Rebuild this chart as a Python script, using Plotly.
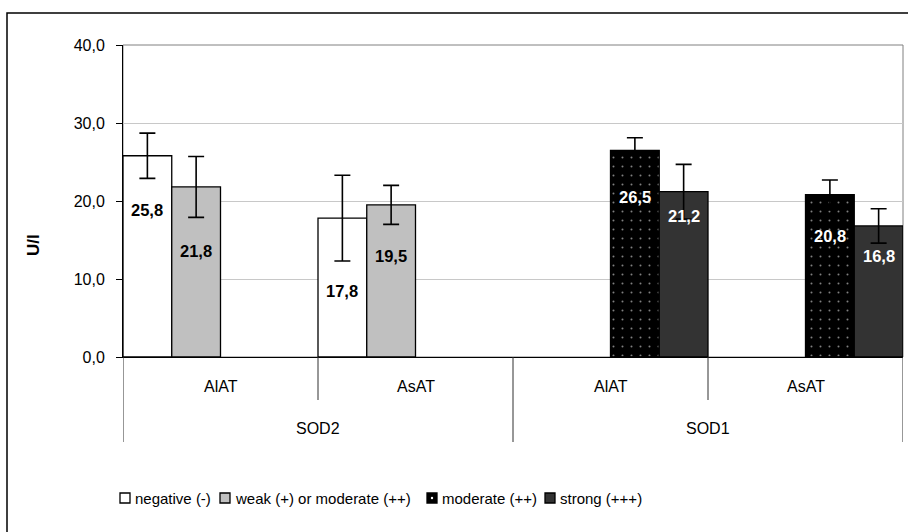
import plotly.graph_objects as go

# ---------------- data ----------------
groups = ["SOD2", "SOD2", "SOD1", "SOD1"]
enzymes = ["AlAT", "AsAT", "AlAT", "AsAT"]
series_names = ["negative (-)", "weak (+) or moderate (++)", "moderate (++)", "strong (+++)"]

negative = [25.8, 17.8, None, None]
weak_or_moderate = [21.8, 19.5, None, None]
moderate = [None, None, 26.5, 20.8]
strong = [None, None, 21.2, 16.8]

err_negative = [2.9, 5.5, None, None]
err_weak_or_moderate = [3.9, 2.5, None, None]
err_moderate = [None, None, 1.6, 1.9]
err_strong = [None, None, 3.5, 2.2]

y_ticks = [0, 10, 20, 30, 40]

# ---------------- style ----------------
FONT = "Liberation Sans, Arial, sans-serif"
W, H = 908, 532
ML, MR, MT, MB = 123, 5, 45, 175
PW, PH = W - ML - MR, H - MT - MB


def px_to_paper_x(px):
    return (px - ML) / PW


def px_to_paper_y(py):
    return (H - MB - py) / PH


values = [negative, weak_or_moderate, moderate, strong]
errors = [err_negative, err_weak_or_moderate, err_moderate, err_strong]
fills = ["white", "#c0c0c0", "black", "#333333"]
label_colors = ["black", "black", "white", "white"]
# label centre distance below the bar top (y units), per series, per category
label_drop = [[7.0, 9.3, None, None],
              [8.2, 6.5, None, None],
              [None, None, 6.0, 5.3],
              [None, None, 3.1, 3.9]]

x_pos = list(range(len(enzymes)))

fig = go.Figure()
for k, (name, vals, errs) in enumerate(zip(series_names, values, errors)):
    mk = dict(color=fills[k], line=dict(color="black", width=1.3))
    if k == 2:
        mk["pattern"] = dict(shape=".", fgcolor="white", bgcolor="black", size=9, solidity=0.04)
    fig.add_trace(go.Bar(
        x=x_pos, y=vals, name=name, marker=mk, showlegend=False, hoverinfo="skip",
        error_y=dict(type="data", array=errs, symmetric=True,
                     color="black", thickness=1.6, width=8),
    ))

n_series = len(series_names)
slot_w = 1.0 / n_series
annotations = []
for k, (vals, drops, col) in enumerate(zip(values, label_drop, label_colors)):
    for i, v in enumerate(vals):
        if v is None:
            continue
        annotations.append(dict(
            x=x_pos[i] + (k - (n_series - 1) / 2) * slot_w,
            y=v - drops[i],
            xref="x", yref="y", showarrow=False,
            text=f"{v:.1f}".replace(".", ","),
            font=dict(family=FONT, size=16.5, color=col, weight="bold"),
        ))

# inner (enzyme) labels
for i, e in enumerate(enzymes):
    annotations.append(dict(x=x_pos[i], y=px_to_paper_y(386), xref="x", yref="paper",
                            text=e, showarrow=False, yanchor="middle",
                            font=dict(family=FONT, size=16, color="black")))
# outer (group) labels
seen = []
for g in groups:
    if g not in seen:
        seen.append(g)
for g in seen:
    idx = [i for i, gg in enumerate(groups) if gg == g]
    annotations.append(dict(x=(x_pos[idx[0]] + x_pos[idx[-1]]) / 2, y=px_to_paper_y(428),
                            xref="x", yref="paper", text=g, showarrow=False, yanchor="middle",
                            font=dict(family=FONT, size=16, color="black")))

# y axis title
annotations.append(dict(x=px_to_paper_x(34), y=px_to_paper_y(245), xref="paper", yref="paper",
                        xanchor="center", yanchor="middle",
                        text="<b>U/l</b>", textangle=-90, showarrow=False,
                        font=dict(family=FONT, size=17, color="black")))

shapes = []
# chart frame
shapes.append(dict(type="rect", xref="paper", yref="paper",
                   x0=px_to_paper_x(7), x1=px_to_paper_x(930),
                   y0=px_to_paper_y(560), y1=px_to_paper_y(13),
                   line=dict(color="black", width=1.5), layer="below"))
# plot area border
shapes.append(dict(type="rect", xref="paper", yref="paper", x0=0, x1=1, y0=0, y1=1,
                   line=dict(color="#808080", width=1), layer="below"))
# category dividers
bounds = [x_pos[0] - 0.5] + [x + 0.5 for x in x_pos]
for j, b in enumerate(bounds):
    long = (j == 0 or j == len(bounds) - 1 or groups[j - 1] != groups[j])
    shapes.append(dict(type="line", xref="x", yref="paper", x0=b, x1=b,
                       y0=0, y1=px_to_paper_y(442 if long else 400),
                       line=dict(color="#303030", width=1)))

# legend (Excel style: small square key followed closely by text)
legend_key_x = [120, 220, 427, 545]
LEG_Y, KEY = 498, 10
for k, name in enumerate(series_names):
    x0 = legend_key_x[k]
    shapes.append(dict(type="rect", xref="paper", yref="paper",
                       x0=px_to_paper_x(x0), x1=px_to_paper_x(x0 + KEY),
                       y0=px_to_paper_y(LEG_Y + KEY / 2), y1=px_to_paper_y(LEG_Y - KEY / 2),
                       fillcolor=fills[k], line=dict(color="black", width=1.3)))
    if k == 2:
        shapes.append(dict(type="circle", xref="paper", yref="paper",
                           x0=px_to_paper_x(x0 + KEY / 2 - 1.2), x1=px_to_paper_x(x0 + KEY / 2 + 1.2),
                           y0=px_to_paper_y(LEG_Y + 1.2), y1=px_to_paper_y(LEG_Y - 1.2),
                           fillcolor="white", line=dict(width=0)))
    annotations.append(dict(x=px_to_paper_x(x0 + KEY + 3), y=px_to_paper_y(LEG_Y),
                            xref="paper", yref="paper", xanchor="left", yanchor="middle",
                            text=name, showarrow=False,
                            font=dict(family=FONT, size=15, color="black")))

fig.update_layout(
    width=W, height=H,
    margin=dict(l=ML, r=MR, t=MT, b=MB, pad=0),
    paper_bgcolor="white", plot_bgcolor="white",
    barmode="group", bargap=0, bargroupgap=0,
    separators=",.",
    font=dict(family=FONT, size=15, color="black"),
    showlegend=False, hovermode=False,
    xaxis=dict(range=[-0.5, len(x_pos) - 0.5], showticklabels=False, ticks="",
               showgrid=False, zeroline=False, showline=True, linecolor="black",
               linewidth=1, fixedrange=True),
    yaxis=dict(range=[0, 40], tickvals=y_ticks,
               ticktext=[f"{t:.1f}".replace(".", ",") for t in y_ticks],
               ticks="outside", ticklen=6, tickcolor="black", tickwidth=1,
               ticklabelstandoff=8,
               showgrid=True, gridcolor="#c8c8c8", gridwidth=1,
               zeroline=False, showline=True, linecolor="black", linewidth=1,
               tickfont=dict(family=FONT, size=16, color="black"), fixedrange=True),
    annotations=annotations, shapes=shapes,
)

fig.write_html("out.html", config={"displayModeBar": False, "staticPlot": True},
               post_script="document.body.style.margin='0';document.body.style.overflow='hidden';")
